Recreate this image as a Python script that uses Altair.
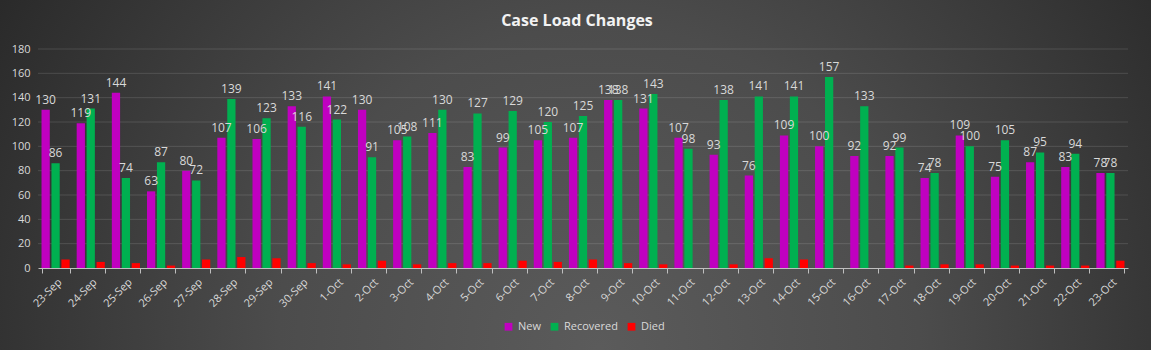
import altair as alt
import pandas as pd

title_text = ["Case Load Changes"]
dates = ["23-Sep", "24-Sep", "25-Sep", "26-Sep", "27-Sep", "28-Sep", "29-Sep", "30-Sep",
         "1-Oct", "2-Oct", "3-Oct", "4-Oct", "5-Oct", "6-Oct", "7-Oct", "8-Oct", "9-Oct",
         "10-Oct", "11-Oct", "12-Oct", "13-Oct", "14-Oct", "15-Oct", "16-Oct", "17-Oct",
         "18-Oct", "19-Oct", "20-Oct", "21-Oct", "22-Oct", "23-Oct"]
new = [130, 119, 144, 63, 80, 107, 106, 133, 141, 130, 105, 111, 83, 99, 105, 107, 138,
       131, 107, 93, 76, 109, 100, 92, 92, 74, 109, 75, 87, 83, 78]
recovered = [86, 131, 74, 87, 72, 139, 123, 116, 122, 91, 108, 130, 127, 129, 120, 125, 138,
             143, 98, 138, 141, 141, 157, 133, 99, 78, 100, 105, 95, 94, 78]
died = [7, 5, 4, 2, 7, 9, 8, 4, 3, 6, 3, 4, 4, 6, 5, 7, 4, 3, 0, 3, 8, 7, 0, 0, 2, 3, 3,
        2, 2, 2, 6]
y_ticks = [0, 20, 40, 60, 80, 100, 120, 140, 160, 180]
series = ["New", "Recovered", "Died"]
colors = ["#c000c0", "#00b050", "#ff0000"]

rows = []
for i, d in enumerate(dates):
    for s, vals in zip(series, [new, recovered, died]):
        rows.append({"date": d, "series": s, "value": vals[i]})
df = pd.DataFrame(rows)

W, H = 1090, 219
PL, PT = 38, 49
FONT = "Open Sans"
TXT = "#d9d9d9"

yaxis = alt.Axis(values=y_ticks, labelColor=TXT, labelFontSize=11, labelFont=FONT,
                 domain=False, ticks=False, grid=False, labelPadding=8, zindex=1,
                 labelOverlap=False, title=None)
yscale = alt.Scale(domain=[0, 180])

bg = alt.Chart(pd.DataFrame({"a": [0]})).mark_rect(
    fill=alt.RadialGradient(
        gradient="radial",
        x1=0.52, y1=0.65, r1=0.0,
        x2=0.52, y2=0.65, r2=0.62,
        stops=[alt.GradientStop(color="#5b5b5b", offset=0),
               alt.GradientStop(color="#4c4c4c", offset=0.45),
               alt.GradientStop(color="#282828", offset=1)],
    )
).encode(
    x=alt.value(-PL), x2=alt.value(1151 - PL),
    y=alt.value(-PT), y2=alt.value(350 - PT),
)

title = alt.Chart(pd.DataFrame({"title": title_text})).mark_text(
    fontSize=16, font=FONT, fontWeight="bold", color="#f2f2f2", baseline="middle",
    align="center"
).encode(x=alt.value(577 - PL), y=alt.value(21 - PT), text="title:N")

grid = alt.Chart(pd.DataFrame({"t": y_ticks[1:]})).mark_rule(
    color="#ffffff", opacity=0.13, strokeWidth=1
).encode(y=alt.Y("t:Q", scale=yscale, axis=yaxis))

xenc = alt.X("date:N", sort=dates, title=None,
             scale=alt.Scale(paddingInner=0.2, paddingOuter=0.1),
             axis=alt.Axis(labelAngle=-45, labelColor=TXT, labelFontSize=11, labelFont=FONT,
                           domainColor="#bfbfbf", tickColor="#bfbfbf", tickSize=5,
                           tickBand="extent", grid=False, labelPadding=3, zindex=1,
                           labelOverlap=False))
xoff = alt.XOffset("series:N", sort=series, scale=alt.Scale(paddingInner=0.17))

bars = alt.Chart(df).mark_bar().encode(
    x=xenc,
    xOffset=xoff,
    y=alt.Y("value:Q", scale=yscale, axis=yaxis),
    color=alt.Color("series:N", sort=series,
                    scale=alt.Scale(domain=series, range=colors),
                    legend=alt.Legend(title=None, orient="none", direction="horizontal",
                                      legendX=465, legendY=272, symbolType="square",
                                      symbolSize=60, labelColor=TXT, labelFontSize=11,
                                      labelFont=FONT, columnPadding=8, symbolStrokeWidth=0)),
)

labels = alt.Chart(df).transform_filter(alt.datum.series != "Died").mark_text(
    baseline="bottom", dy=-3, fontSize=12, font=FONT, color=TXT
).encode(
    x=alt.X("date:N", sort=dates),
    xOffset=alt.XOffset("series:N", sort=series),
    y=alt.Y("value:Q", scale=yscale, axis=yaxis),
    text=alt.Text("value:Q"),
)

chart = alt.layer(bg, title, grid, bars, labels).properties(
    width=W, height=H,
    autosize=alt.AutoSizeParams(type="none"),
    padding={"left": PL, "top": PT, "right": 1151 - PL - W, "bottom": 350 - PT - H},
).configure_view(stroke=None).configure(background="#333333")

chart.save("out.html", embed_options={"renderer": "svg", "actions": False})
